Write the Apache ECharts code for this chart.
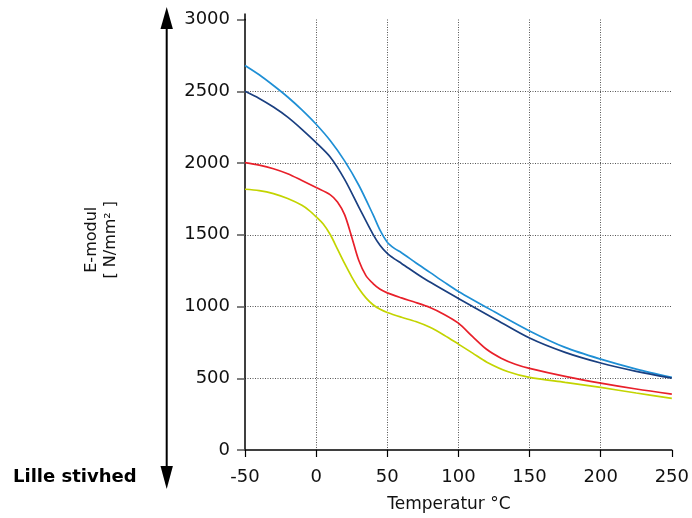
<!DOCTYPE html>
<html>
<head>
<meta charset="utf-8">
<title>E-modul</title>
<script src="https://cdn.jsdelivr.net/npm/echarts@6/dist/echarts.min.js"></script>
<style>
  html, body { margin: 0; padding: 0; background: #fff; }
  #chart { width: 692px; height: 518px; }
</style>
</head>
<body>
<div id="chart"></div>
<script>
// Temperature ticks and modulus ticks
const xTicks = [-50, 0, 50, 100, 150, 200, 250];
const yTicks = [0, 500, 1000, 1500, 2000, 2500, 3000];

// [temperature °C, E-modul N/mm²] for each material curve
const curveLightBlue = [
  [-50, 2680], [-40, 2615], [-30, 2540], [-20, 2460], [-10, 2370], [0, 2270],
  [10, 2155], [20, 2015], [30, 1845], [40, 1640], [45, 1530], [50, 1448],
  [55, 1405], [60, 1375], [70, 1305], [80, 1238], [90, 1170], [100, 1105],
  [125, 965], [150, 830], [175, 715], [200, 633], [225, 564], [250, 506]
];
const curveDarkBlue = [
  [-50, 2500], [-40, 2450], [-30, 2390], [-20, 2320], [-10, 2235], [0, 2142],
  [10, 2040], [20, 1886], [30, 1693], [40, 1503], [45, 1425], [50, 1370],
  [55, 1332], [60, 1300], [75, 1200], [100, 1056], [125, 917], [150, 780],
  [175, 680], [200, 606], [225, 548], [250, 501]
];
const curveRed = [
  [-50, 2002], [-40, 1985], [-30, 1960], [-20, 1925], [-10, 1878], [0, 1829],
  [10, 1778], [15, 1728], [20, 1640], [25, 1485], [30, 1320], [35, 1215],
  [40, 1160], [45, 1120], [50, 1095], [60, 1060], [70, 1028], [80, 993],
  [90, 945], [100, 884], [110, 790], [120, 700], [130, 640], [140, 598],
  [150, 569], [175, 513], [200, 466], [225, 425], [250, 390]
];
const curveYellow = [
  [-50, 1817], [-40, 1808], [-30, 1787], [-20, 1752], [-10, 1705], [-5, 1670],
  [0, 1625], [5, 1575], [10, 1500], [15, 1400], [20, 1300], [25, 1207],
  [30, 1125], [35, 1060], [40, 1012], [45, 980], [50, 958], [60, 925],
  [70, 895], [80, 855], [90, 800], [100, 738], [110, 675], [120, 612],
  [135, 545], [150, 506], [175, 471], [200, 436], [225, 397], [250, 360]
];

const FONT = 'DejaVu Sans';
const chart = echarts.init(document.getElementById('chart'), null, { renderer: 'canvas' });

function lineSeries(data, color) {
  return {
    type: 'line',
    data: data,
    smooth: 0.3,
    symbol: 'none',
    lineStyle: { color: color, width: 1.7 },
    z: 3
  };
}

const gridDots = { color: '#555', width: 1, type: [1, 1.5] };
const plainNumber = (v) => String(v);

chart.setOption({
  animation: false,
  backgroundColor: '#fff',
  grid: { left: 245, right: 16, top: 19.5, bottom: 67, containLabel: false },
  xAxis: {
    type: 'value',
    min: xTicks[0],
    max: xTicks[xTicks.length - 1],
    interval: 50,
    name: 'Temperatur °C',
    nameLocation: 'middle',
    nameGap: 46,
    nameTextStyle: { fontFamily: FONT, fontSize: 17, color: '#111', padding: [0, 19, 0, 0] },
    axisLine: { onZero: false, lineStyle: { color: '#000', width: 1.5 } },
    axisTick: { show: true, length: 7, lineStyle: { color: '#000', width: 1.2 } },
    axisLabel: { margin: 18, fontFamily: FONT, fontSize: 18, color: '#111', formatter: plainNumber },
    splitLine: { show: true, showMinLine: false, showMaxLine: false, lineStyle: gridDots }
  },
  yAxis: {
    type: 'value',
    min: yTicks[0],
    max: yTicks[yTicks.length - 1],
    interval: 500,
    name: 'E-modul\n[ N/mm² ]',
    nameLocation: 'middle',
    nameRotate: 90,
    nameGap: 125,
    nameTextStyle: { fontFamily: FONT, fontSize: 16, lineHeight: 19, color: '#111', align: 'center', padding: [0, 10, 0, 0] },
    axisLine: { onZero: false, lineStyle: { color: '#000', width: 1.5 } },
    axisTick: { show: true, length: 8, lineStyle: { color: '#555', width: 1.5 } },
    axisLabel: { margin: 15, fontFamily: FONT, fontSize: 18, color: '#111', formatter: plainNumber },
    splitLine: { show: true, showMinLine: false, showMaxLine: false, lineStyle: gridDots }
  },
  series: [
    lineSeries(curveLightBlue, '#1e8fd5'),
    lineSeries(curveDarkBlue, '#1a3f80'),
    lineSeries(curveRed, '#e8202a'),
    lineSeries(curveYellow, '#c3d400')
  ]
});

// Axis stub above the top tick, the stiffness arrow and its caption
const axisX = chart.convertToPixel({ xAxisIndex: 0 }, xTicks[0]);
const topY = chart.convertToPixel({ yAxisIndex: 0 }, yTicks[yTicks.length - 1]);
const arrowX = 166.7;

chart.setOption({
  graphic: [
    {
      type: 'line',
      shape: { x1: axisX, y1: topY - 6, x2: axisX, y2: topY + 1 },
      style: { stroke: '#000', lineWidth: 1.5 },
      z: 10
    },
    {
      type: 'line',
      shape: { x1: arrowX, y1: 28, x2: arrowX, y2: 467 },
      style: { stroke: '#000', lineWidth: 2 }
    },
    {
      type: 'polygon',
      shape: { points: [[arrowX - 6.2, 29], [arrowX + 6.2, 29], [arrowX, 7]] },
      style: { fill: '#000' }
    },
    {
      type: 'polygon',
      shape: { points: [[arrowX - 6.2, 466], [arrowX + 6.2, 466], [arrowX, 489]] },
      style: { fill: '#000' }
    },
    {
      type: 'text',
      left: 13,
      top: 468,
      style: {
        text: 'Lille stivhed',
        fontFamily: FONT,
        fontSize: 18,
        fontWeight: 'bold',
        fill: '#000'
      }
    }
  ]
});
</script>
</body>
</html>
